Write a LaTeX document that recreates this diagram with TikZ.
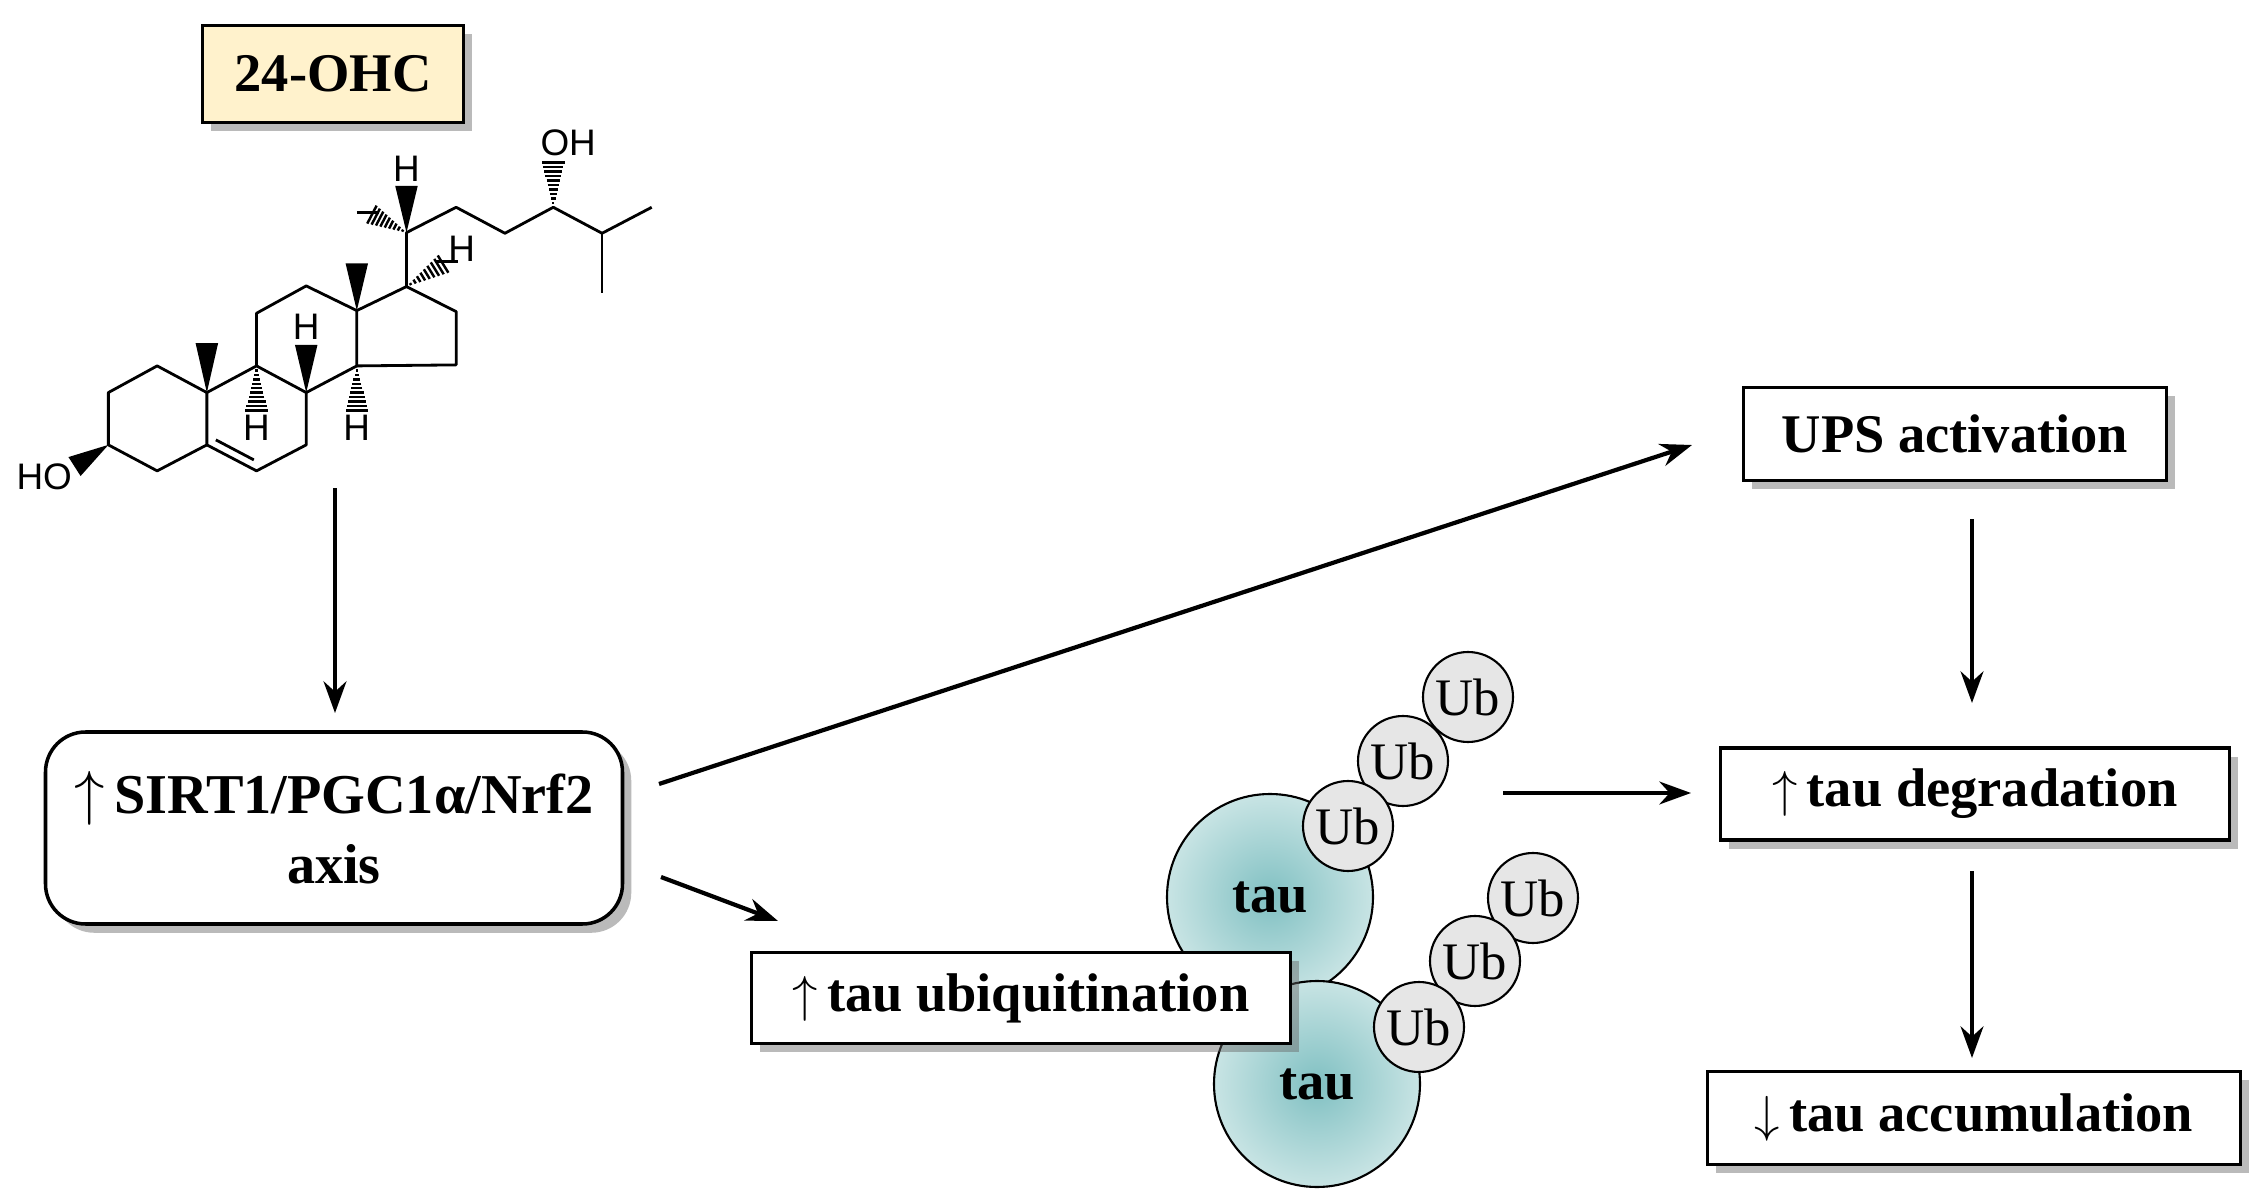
\documentclass[tikz,border=0pt]{standalone}
\usepackage{fontspec}
\setmainfont{Liberation Serif}
\newfontfamily\atomfont{Liberation Sans}
\usetikzlibrary{calc,shadows,arrows.meta}
\definecolor{boxyellow}{RGB}{255,242,204}
\definecolor{tauin}{RGB}{128,192,194}
\definecolor{tauout}{RGB}{200,228,228}
\definecolor{ubgray}{RGB}{230,230,230}
\newcommand\hbond[2]{\foreach \t [evaluate=\t as \d using \t*3.2] in {0.1,0.2,...,1.0}{\draw[line width=0.7pt] ($(#1)!\t!(#2)!\d pt!90:(#2)$) -- ($(#1)!\t!(#2)!\d pt!-90:(#2)$);}}
\newcommand\wbond[2]{\fill (#1) -- ($(#2)!3.2pt!90:(#1)$) -- ($(#2)!3.2pt!-90:(#1)$) -- cycle;}
\newcommand\up{{\mdseries$\uparrow$}\,}
\newcommand\down{{\mdseries$\downarrow$}\,}
\begin{document}
\begin{tikzpicture}[x=0.1mm,y=-0.1mm,
  boxstyle/.style={draw, line width=1pt, fill=white, font=\fontsize{15.5}{19}\selectfont\bfseries, inner sep=0pt,
     drop shadow={shadow xshift=2.5pt,shadow yshift=-2.5pt,fill=black!60,opacity=0.45}},
  arr/.style={-{Stealth[length=9pt,width=6.5pt]}, line width=1.2pt},
  atom/.style={font=\atomfont\fontsize{10.5}{12}\selectfont, inner sep=0pt},
  bond/.style={line width=0.8pt},
  taucirc/.style={circle, draw, line width=0.6pt, minimum size=20.6mm, inner sep=0pt, inner color=tauin, outer color=tauout, font=\fontsize{15.5}{17}\selectfont\bfseries},
  ubcirc/.style={circle, draw, line width=0.6pt, minimum size=9mm, inner sep=0pt, fill=ubgray, font=\fontsize{15}{16}\selectfont}]
\useasboundingbox (0,0) rectangle (2260,1200);

% title box
\node[boxstyle, fill=boxyellow, minimum width=26.1mm, minimum height=9.7mm, font=\fontsize{15.5}{18}\selectfont\bfseries] (ohc) at (333,74) {24-OHC};

% molecule
\begin{scope}[x=0.04517mm, y=-0.03333mm, shift={(0,300)}]
\coordinate (a1) at (240,878); \coordinate (a2) at (348,798); \coordinate (c10) at (458,878);
\coordinate (c5) at (458,1035); \coordinate (a5) at (348,1113); \coordinate (c3) at (240,1035);
\coordinate (c9) at (568,798); \coordinate (c8) at (678,878); \coordinate (c7) at (678,1035);
\coordinate (c6) at (568,1113); \coordinate (c11) at (568,640); \coordinate (c12) at (678,558);
\coordinate (c13) at (790,632); \coordinate (c14) at (790,798); \coordinate (c17) at (900,560);
\coordinate (c16) at (1010,635); \coordinate (c15) at (1010,795);
\coordinate (c20) at (900,398); \coordinate (c21) at (815,338); \coordinate (h20) at (900,258);
\coordinate (c22) at (1010,322); \coordinate (c23) at (1118,400); \coordinate (c24) at (1225,322);
\coordinate (c25) at (1333,400); \coordinate (c26) at (1443,322); \coordinate (c27) at (1333,578);
\coordinate (o24) at (1225,188); \coordinate (h17) at (990,485); \coordinate (m13) at (790,490);
\coordinate (m10) at (458,730); \coordinate (h8) at (678,735); \coordinate (h9) at (568,932);
\coordinate (h14) at (790,932); \coordinate (o3) at (165,1100);
\draw[bond, line join=round] (c3) -- (a1) -- (a2) -- (c10) -- (c5) -- (a5) -- cycle;
\draw[bond, line join=round] (c10) -- (c9) -- (c8) -- (c7) -- (c6) -- (c5);
\draw[bond, line join=round] (c9) -- (c11) -- (c12) -- (c13) -- (c14) -- (c8);
\draw[bond, line join=round] (c13) -- (c17) -- (c16) -- (c15) -- (c14);
\draw[bond] (478,1020) -- (562,1080);
\draw[bond, line join=round] (c17) -- (c20) -- (c22) -- (c23) -- (c24) -- (c25) -- (c26);
\draw[bond] (c25) -- (c27);
\wbond{c20}{h20} \wbond{c13}{m13} \wbond{c10}{m10} \wbond{c8}{h8} \wbond{c3}{o3}
\hbond{c20}{c21} \hbond{c24}{o24} \hbond{c17}{h17} \hbond{c9}{h9} \hbond{c14}{h14}
\node[atom] (lh20) at (900,208) {H};
\node[atom] (loh) at (1258,130) {OH};
\node[atom] (lh17) at (1022,448) {H};
\node[atom] (lh8) at (678,682) {H};
\node[atom] (lh9) at (568,985) {H};
\node[atom] (lh14) at (790,985) {H};
\node[atom] (lho) at (98,1130) {HO};
\end{scope}

% boxes
\node[boxstyle, rounded corners=4mm, minimum width=57.7mm, minimum height=19.2mm, align=center, font=\fontsize{16}{20}\selectfont\bfseries] (sirt) at (334,828) {\up SIRT1/PGC1α/Nrf2\\axis};
\node[boxstyle, minimum width=42.3mm, minimum height=9.3mm] (ups) at (1955,434) {UPS activation};
\node[boxstyle, minimum width=50.9mm, minimum height=9.2mm] (deg) at (1975,794) {\up tau degradation};
\node[boxstyle, minimum width=53.3mm, minimum height=9.3mm] (acc) at (1974,1118) {\down tau accumulation};

% tau and ubiquitin
\node[taucirc] (tau1) at (1270,897) {tau};
\node[ubcirc] (u13) at (1468,697) {Ub};
\node[ubcirc] (u12) at (1403,761) {Ub};
\node[ubcirc] (u11) at (1348,826) {Ub};
\node[taucirc] (tau2) at (1317,1084) {tau};
\node[ubcirc] (u23) at (1533,898) {Ub};
\node[ubcirc] (u22) at (1475,961) {Ub};
\node[ubcirc] (u21) at (1419,1027) {Ub};

\node[boxstyle, minimum width=53.9mm, minimum height=9.1mm] (ubq) at (1021,998) {\up tau ubiquitination};

% arrows
\coordinate (m1) at (335,488);
\coordinate (m2) at (335,713);
\coordinate (s1) at (659,784);
\coordinate (s2) at (661,877);
\coordinate (e1) at (1692,445);
\coordinate (e2) at (778,921);
\coordinate (t1) at (1503,793);
\coordinate (t2) at (1691,793);
\coordinate (v1) at (1972,519);
\coordinate (v2) at (1972,703);
\coordinate (w1) at (1972,871);
\coordinate (w2) at (1972,1058);
\draw[arr] (m1) -- (m2);
\draw[arr] (s1) -- (e1);
\draw[arr] (s2) -- (e2);
\draw[arr] (t1) -- (t2);
\draw[arr] (v1) -- (v2);
\draw[arr] (w1) -- (w2);
\end{tikzpicture}
\end{document}
